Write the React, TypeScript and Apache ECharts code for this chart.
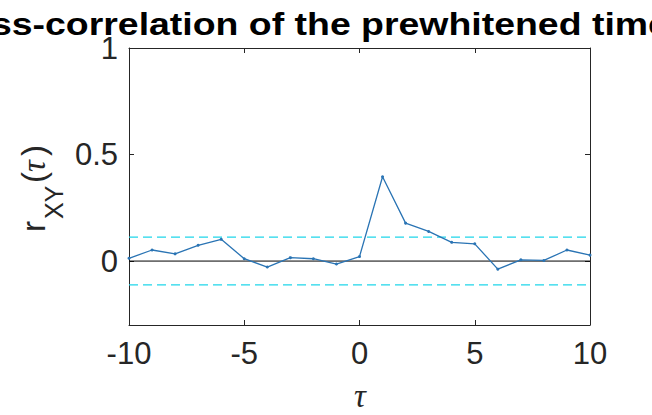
import { useEffect, useRef } from "react";
import * as echarts from "echarts";

// Lags (tau) and sample cross-correlation of the prewhitened series
const lags = [-10, -9, -8, -7, -6, -5, -4, -3, -2, -1, 0, 1, 2, 3, 4, 5, 6, 7, 8, 9, 10];
const rxy = [
  0.013, 0.052, 0.034, 0.074, 0.102, 0.011, -0.028, 0.016, 0.011, -0.014, 0.021,
  0.396, 0.178, 0.139, 0.088, 0.081, -0.038, 0.006, 0.003, 0.052, 0.028,
];
// Approximate 95% confidence bound
const confBound = 0.112;

const xTickStep = 5;
const yTicks = [0, 0.5, 1];
const yMin = -0.3;
const yMax = 1;

const titleText = "Cross-correlation of the prewhitened time series";

const axisColor = "#262626";
const sansFont = "'Liberation Sans', Arial, Helvetica, sans-serif";
const serifFont = "'Liberation Serif', 'DejaVu Serif', 'Times New Roman', serif";

export default function App() {
  const ref = useRef<HTMLDivElement>(null);

  useEffect(() => {
    if (!ref.current) return;
    const chart = echarts.init(ref.current, undefined, { renderer: "svg" });

    const xMin = lags[0];
    const xMax = lags[lags.length - 1];
    const hLine = (v: number) => [
      [xMin, v],
      [xMax, v],
    ];

    const baseX = {
      type: "value" as const,
      min: xMin,
      max: xMax,
      interval: xTickStep,
      splitLine: { show: false },
      axisLine: { show: true, onZero: false, lineStyle: { color: axisColor, width: 1 } },
      axisTick: { show: true, inside: true, length: 5, lineStyle: { color: axisColor, width: 1 } },
    };
    const baseY = {
      type: "value" as const,
      min: yMin,
      max: yMax,
      splitLine: { show: false },
      axisLine: { show: true, onZero: false, lineStyle: { color: axisColor, width: 1 } },
      axisTick: {
        show: true,
        inside: true,
        length: 5,
        customValues: yTicks,
        lineStyle: { color: axisColor, width: 1 },
      },
    };

    const labelPiece = (
      text: string,
      x: number,
      y: number,
      fontSize: number,
      family: string,
      italic = false
    ) => ({
      type: "text",
      x,
      y,
      style: {
        text,
        fontSize,
        fontFamily: family,
        fontStyle: italic ? "italic" : "normal",
        fill: axisColor,
        align: "left",
        verticalAlign: "middle",
        textAlign: "left",
        textVerticalAlign: "middle",
      },
    });

    chart.setOption({
      animation: false,
      backgroundColor: "#ffffff",
      grid: { left: 129, right: 62, top: 48, bottom: 90, outerBoundsMode: "none" },
      xAxis: [
        {
          ...baseX,
          position: "bottom",
          axisLabel: { show: true, fontSize: 31, color: axisColor, fontFamily: sansFont, margin: 13 },
        },
        { ...baseX, position: "top", axisLabel: { show: false } },
      ],
      yAxis: [
        {
          ...baseY,
          position: "left",
          axisLabel: {
            show: true,
            customValues: yTicks,
            fontSize: 31,
            color: axisColor,
            fontFamily: sansFont,
            margin: 11,
          },
        },
        { ...baseY, position: "right", axisLabel: { show: false } },
      ],
      graphic: [
        {
          type: "text",
          x: 357,
          y: 24,
          scaleX: 1.17,
          style: {
            text: titleText,
            fontSize: 32,
            fontWeight: "bold",
            fontFamily: sansFont,
            fill: "#000000",
            align: "center",
            verticalAlign: "middle",
            textAlign: "center",
            textVerticalAlign: "middle",
          },
        },
        {
          type: "text",
          x: 360,
          y: 396,
          style: {
            text: "τ",
            fontSize: 33,
            fontStyle: "italic",
            fontFamily: serifFont,
            fill: axisColor,
            align: "center",
            verticalAlign: "middle",
            textAlign: "center",
            textVerticalAlign: "middle",
          },
        },
        {
          type: "group",
          x: 45,
          y: 231,
          rotation: Math.PI / 2,
          children: [
            labelPiece("r", -1, -11.5, 33, sansFont),
            labelPiece("XY", 12, 8.5, 25, sansFont),
            labelPiece("(", 48, -11.5, 33, sansFont),
            labelPiece("τ", 59, -11.5, 33, serifFont, true),
            labelPiece(")", 75, -11.5, 33, sansFont),
          ],
        },
      ],
      series: [
        {
          name: "zero",
          type: "line",
          data: hLine(0),
          symbol: "none",
          lineStyle: { color: "#000000", width: 1 },
          silent: true,
        },
        {
          name: "upper bound",
          type: "line",
          data: hLine(confBound),
          symbol: "none",
          lineStyle: { color: "#1fd6ea", width: 1.3, type: [9, 5] },
          silent: true,
        },
        {
          name: "lower bound",
          type: "line",
          data: hLine(-confBound),
          symbol: "none",
          lineStyle: { color: "#1fd6ea", width: 1.3, type: [9, 5] },
          silent: true,
        },
        {
          name: "r_XY",
          type: "line",
          data: lags.map((t, i) => [t, rxy[i]]),
          symbol: "circle",
          symbolSize: 3,
          showAllSymbol: true,
          lineStyle: { color: "#2a74b4", width: 1.3 },
          itemStyle: { color: "#2a74b4" },
        },
      ],
    });

    return () => chart.dispose();
  }, []);

  return (
    <div
      ref={ref}
      style={{ position: "fixed", left: 0, top: 0, width: 652, height: 415, background: "#fff" }}
    />
  );
}
